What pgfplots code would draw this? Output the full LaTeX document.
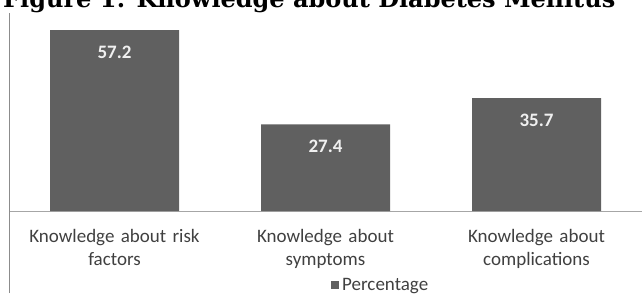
\documentclass[border=0pt]{standalone}
\usepackage{pgfplots}
\pgfplotsset{compat=1.18}
\usepackage{fontspec}
\setmainfont{Carlito}
\newfontfamily\titlefont{DejaVu Serif}
\definecolor{barc}{HTML}{606060}
\definecolor{axc}{HTML}{A6A6A6}
\definecolor{vaxc}{HTML}{8C8C8C}
\definecolor{txtc}{HTML}{404040}
\begin{document}
\begin{tikzpicture}
\useasboundingbox (0pt,0pt) rectangle (642pt,293pt);
\clip (0pt,0pt) rectangle (642pt,293pt);
\node[anchor=base west, inner sep=0pt] at (3pt,286pt) {\titlefont\bfseries\fontsize{24}{28}\selectfont Figure 1: Knowledge about Diabetes Mellitus};
\begin{axis}[
  at={(9pt,82pt)}, anchor=south west,
  width=633pt, height=198pt, scale only axis,
  ybar, bar width=129pt,
  xmin=-0.5, xmax=2.5, ymin=0, ymax=62.6,
  axis x line*=bottom, axis y line*=left,
  x axis line style={axc, line width=1pt, -},
  y axis line style={vaxc, line width=1pt, -},
  ytick=\empty,
  xtick={0,1,2},
  xticklabels={Knowledge about risk\\factors, Knowledge about\\symptoms, Knowledge about\\complications},
  major tick length=0pt,
  x tick label style={font=\fontsize{19}{23}\selectfont, text=txtc, align=center, text width=220pt, inner sep=0pt, yshift=-18pt},
  /pgf/number format/assume math mode=true,
  nodes near coords,
  nodes near coords style={anchor=center, yshift=-22pt, font=\bfseries\fontsize{19}{19}\selectfont, text=white!94!black, /pgf/number format/fixed, /pgf/number format/precision=1},
  legend style={at={(0.588,-0.374)}, anchor=center, draw=none, fill=none, font=\fontsize{19}{19}\selectfont, text=txtc, inner sep=0pt, nodes={inner xsep=3pt}},
  legend image code/.code={\fill[barc] (0pt,-4pt) rectangle (8pt,4pt);},
]
\addplot[fill=barc, draw=none] coordinates {(0,57.2) (1,27.4) (2,35.7)};
\addlegendentry{Percentage}
\end{axis}
\draw[vaxc, line width=1pt] (9pt,0pt) -- (9pt,82pt);
\end{tikzpicture}
\end{document}
